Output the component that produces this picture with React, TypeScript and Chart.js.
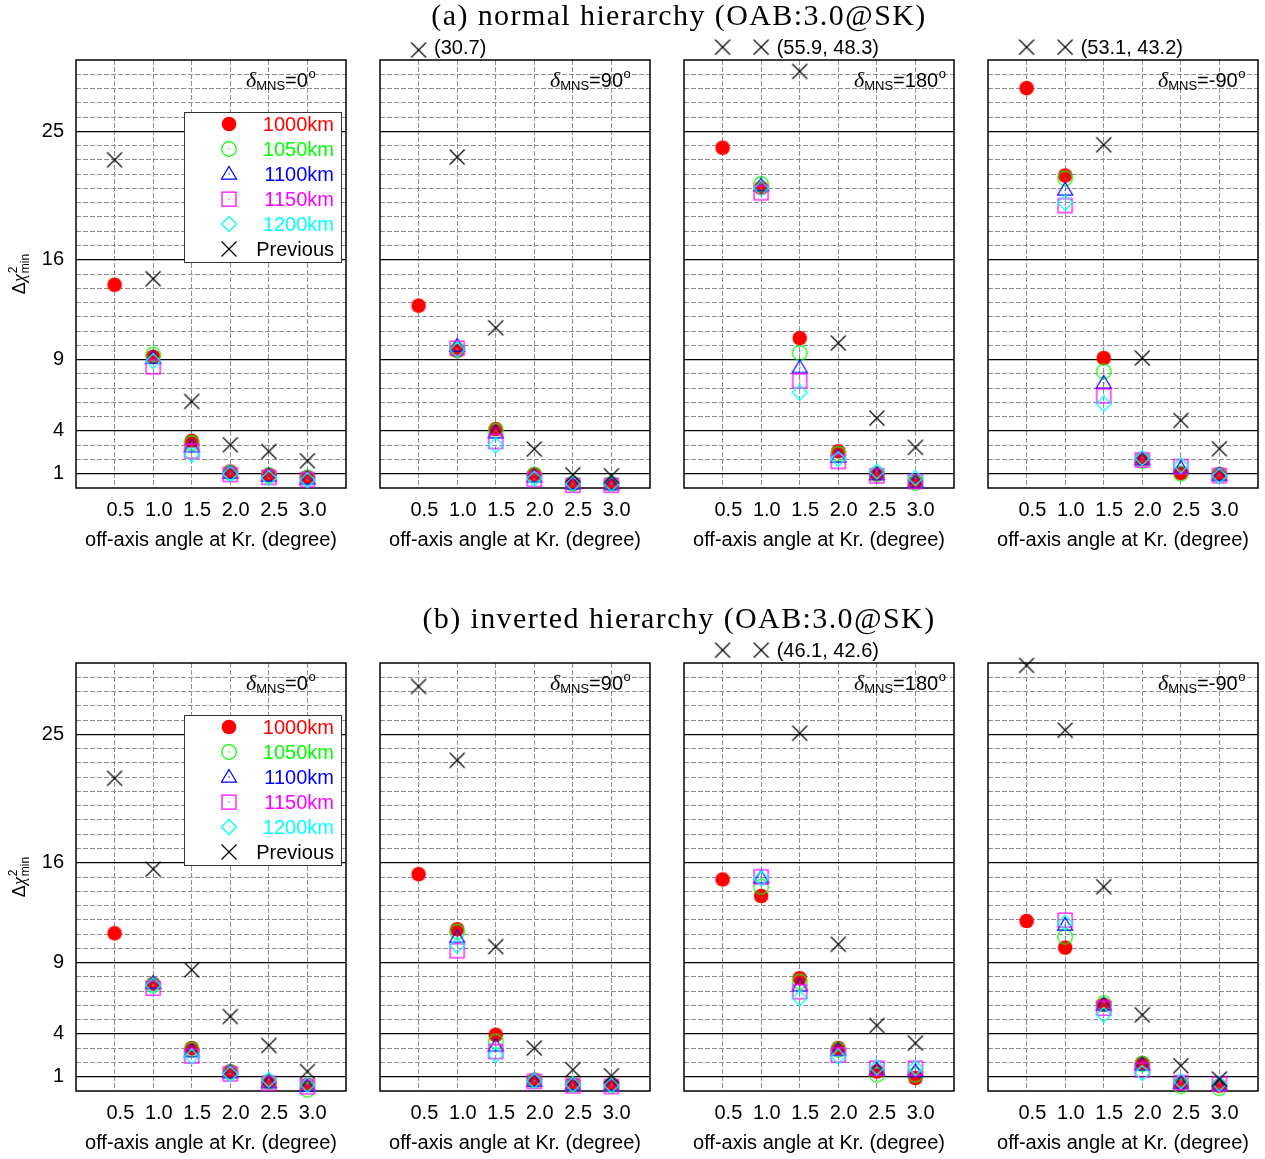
import React, { useEffect, useRef } from "react";
import { Chart, registerables } from "chart.js";
Chart.register(...registerables);

const SANS = "'Liberation Sans', Arial, sans-serif";
const SERIF = "'Liberation Serif', 'Times New Roman', serif";

// ---------- data ----------
const ANGLES = [0.5, 1.0, 1.5, 2.0, 2.5, 3.0];
const X_TICK_LABELS = ["0.5", "1.0", "1.5", "2.0", "2.5", "3.0"];
const Y_MAJOR_TICKS = [1, 4, 9, 16, 25];
const Y_MINOR_TICKS = [1, 2, 3, 4, 5, 6, 7, 8, 9, 10, 11, 12, 13, 14, 15, 16, 17, 18, 19, 20, 21, 22, 23, 24, 25, 26, 27, 28, 29];
const X_GRID_TICKS = [0.5, 1.0, 1.5, 2.0, 2.5, 3.0];
const SERIES_LABELS = ["1000km", "1050km", "1100km", "1150km", "1200km", "Previous"];
const SERIES_COLORS = ["#ff0000", "#00ff00", "#0000ff", "#ff00ff", "#00ffff", "#000000"];
const SERIES_SYMBOLS = ["fcircle", "circle", "triangle", "square", "diamond", "cross"];
const DELTA_LABELS = ["0", "90", "180", "-90"];
const HIERARCHY_TITLES = ["(a) normal hierarchy (OAB:3.0@SK)", "(b) inverted hierarchy (OAB:3.0@SK)"];
const X_TITLE = "off-axis angle at Kr. (degree)";

// normal hierarchy
const NH_D0_1000 = [14.25, 9.2, 3.3, 1.15, 0.93, 0.77];
const NH_D0_1050 = [null, 9.35, 3.15, 1.05, 0.88, 0.72];
const NH_D0_1100 = [null, 9.1, 2.9, 1.05, 0.85, 0.65];
const NH_D0_1150 = [null, 8.5, 2.6, 0.95, 0.75, 0.6];
const NH_D0_1200 = [null, 8.9, 2.35, 1.0, 0.7, 0.55];
const NH_D0_PREV = [23.0, 14.67, 6.07, 3.03, 2.56, 1.91];

const NH_D90_1000 = [12.78, 9.62, 4.13, 0.98, 0.28, 0.28];
const NH_D90_1050 = [null, 9.7, 4.0, 0.9, 0.3, 0.3];
const NH_D90_1100 = [null, 9.95, 3.87, 0.8, 0.3, 0.25];
const NH_D90_1150 = [null, 9.8, 3.27, 0.6, 0.2, 0.2];
const NH_D90_1200 = [null, 9.7, 3.0, 0.65, 0.3, 0.3];
const NH_D90_PREV = [30.7, 23.2, 11.23, 2.73, 0.93, 0.85];

const NH_D180_1000 = [23.85, 21.04, 10.51, 2.57, 1.0, 0.46];
const NH_D180_1050 = [null, 21.3, 9.46, 2.4, 0.95, 0.35];
const NH_D180_1100 = [null, 21.2, 8.45, 2.17, 0.95, 0.4];
const NH_D180_1150 = [null, 20.7, 7.52, 1.87, 0.86, 0.46];
const NH_D180_1200 = [null, 21.0, 6.7, 2.03, 1.16, 0.7];
const NH_D180_PREV = [55.9, 48.3, 29.2, 10.16, 4.9, 2.85];

const NH_DM90_1000 = [28.03, 21.9, 9.11, 2.03, 1.05, 0.98];
const NH_DM90_1050 = [null, 21.7, 8.17, 1.9, 1.0, 0.9];
const NH_DM90_1100 = [null, 20.9, 7.36, 2.0, 1.4, 0.9];
const NH_DM90_1150 = [null, 19.8, 6.47, 1.98, 1.51, 0.88];
const NH_DM90_1200 = [null, 20.0, 5.91, 2.1, 1.58, 0.85];
const NH_DM90_PREV = [53.1, 43.2, 24.06, 9.11, 4.74, 2.75];

// inverted hierarchy
const IH_D0_1000 = [11.06, 7.51, 3.01, 1.37, 0.67, 0.44];
const IH_D0_1050 = [null, 7.4, 2.9, 1.3, 0.6, 0.09];
const IH_D0_1100 = [null, 7.56, 2.77, 1.3, 0.6, 0.35];
const IH_D0_1150 = [null, 7.21, 2.47, 1.21, 0.55, 0.3];
const IH_D0_1200 = [null, 7.4, 2.42, 1.2, 0.79, 0.44];
const IH_D0_PREV = [21.92, 15.55, 8.49, 5.22, 3.19, 1.37];

const IH_D90_1000 = [15.2, 11.34, 3.94, 0.79, 0.51, 0.44];
const IH_D90_1050 = [null, 11.17, 3.47, 0.7, 0.45, 0.4];
const IH_D90_1100 = [null, 10.78, 3.17, 0.7, 0.45, 0.4];
const IH_D90_1150 = [null, 9.84, 2.77, 0.68, 0.37, 0.32];
const IH_D90_1200 = [null, 10.2, 2.54, 0.72, 0.45, 0.4];
const IH_D90_PREV = [28.36, 23.18, 10.12, 3.01, 1.49, 1.07];

const IH_D180_1000 = [14.83, 13.67, 7.91, 3.01, 1.37, 0.91];
const IH_D180_1050 = [null, 14.32, 7.67, 2.9, 1.14, 1.14];
const IH_D180_1100 = [null, 14.95, 7.39, 2.86, 1.49, 1.37];
const IH_D180_1150 = [null, 15.02, 6.97, 2.54, 1.61, 1.61];
const IH_D180_1200 = [null, 14.9, 6.51, 2.42, 1.65, 1.61];
const IH_D180_PREV = [46.1, 42.6, 25.08, 10.29, 4.59, 3.36];

const IH_DM90_1000 = [11.92, 10.05, 6.04, 1.96, 0.56, 0.37];
const IH_DM90_1050 = [null, 10.82, 6.15, 1.9, 0.33, 0.2];
const IH_DM90_1100 = [null, 11.64, 6.04, 1.84, 0.56, 0.4];
const IH_DM90_1150 = [null, 11.99, 5.81, 1.49, 0.6, 0.51];
const IH_DM90_1200 = [null, 11.8, 5.34, 1.26, 0.68, 0.51];
const IH_DM90_PREV = [29.83, 25.29, 14.32, 5.34, 1.77, 0.84];

const PANEL_SERIES: (number | null)[][][] = [
  [NH_D0_1000, NH_D0_1050, NH_D0_1100, NH_D0_1150, NH_D0_1200, NH_D0_PREV],
  [NH_D90_1000, NH_D90_1050, NH_D90_1100, NH_D90_1150, NH_D90_1200, NH_D90_PREV],
  [NH_D180_1000, NH_D180_1050, NH_D180_1100, NH_D180_1150, NH_D180_1200, NH_D180_PREV],
  [NH_DM90_1000, NH_DM90_1050, NH_DM90_1100, NH_DM90_1150, NH_DM90_1200, NH_DM90_PREV],
  [IH_D0_1000, IH_D0_1050, IH_D0_1100, IH_D0_1150, IH_D0_1200, IH_D0_PREV],
  [IH_D90_1000, IH_D90_1050, IH_D90_1100, IH_D90_1150, IH_D90_1200, IH_D90_PREV],
  [IH_D180_1000, IH_D180_1050, IH_D180_1100, IH_D180_1150, IH_D180_1200, IH_D180_PREV],
  [IH_DM90_1000, IH_DM90_1050, IH_DM90_1100, IH_DM90_1150, IH_DM90_1200, IH_DM90_PREV],
];

const Y_MIN = 0;
const Y_MAX = 30;
const Y_OFFSCALE = 30.9; // where off-scale points are shown (above the frame)

// ---------- layout ----------
const PANEL_LEFT = [76, 380, 684, 988];
const PANEL_TOP = [60, 663];
const PLOT_W = 270;
const PLOT_H = 428;
const PAD_L = 76;
const PAD_T = 50;
const PAD_R = 8;
const PAD_B = 66;

function makeSymbol(kind: string, color: string): HTMLCanvasElement {
  const c = document.createElement("canvas");
  c.width = 22;
  c.height = 22;
  const g = c.getContext("2d")!;
  const cx = 11, cy = 11;
  g.strokeStyle = color;
  g.fillStyle = color;
  g.lineWidth = 1.25;
  if (kind === "fcircle") {
    g.beginPath();
    g.arc(cx, cy, 7.3, 0, Math.PI * 2);
    g.fill();
    return c;
  }
  if (kind === "cross") {
    g.lineWidth = 1.2;
    g.beginPath();
    g.moveTo(cx - 7.5, cy - 7.5);
    g.lineTo(cx + 7.5, cy + 7.5);
    g.moveTo(cx + 7.5, cy - 7.5);
    g.lineTo(cx - 7.5, cy + 7.5);
    g.stroke();
    return c;
  }
  g.beginPath();
  if (kind === "circle") {
    g.arc(cx, cy, 7.3, 0, Math.PI * 2);
  } else if (kind === "triangle") {
    g.moveTo(cx, cy - 7.5);
    g.lineTo(cx + 7.5, cy + 5);
    g.lineTo(cx - 7.5, cy + 5);
    g.closePath();
  } else if (kind === "square") {
    g.rect(cx - 7, cy - 7, 14, 14);
  } else if (kind === "diamond") {
    g.moveTo(cx, cy - 7.5);
    g.lineTo(cx + 7.5, cy);
    g.lineTo(cx, cy + 7.5);
    g.lineTo(cx - 7.5, cy);
    g.closePath();
  }
  g.stroke();
  g.fillRect(cx - 0.6, cy - 0.6, 1.2, 1.2);
  return c;
}

function decorPlugin(panel: number, symbols: HTMLCanvasElement[]) {
  const prev = PANEL_SERIES[panel][5];
  const first = panel % 4 === 0;
  return {
    id: "decor" + panel,
    beforeDatasetsDraw(chart: any) {
      const { ctx, chartArea: a } = chart;
      ctx.save();
      ctx.strokeStyle = "#000";
      ctx.lineWidth = 1.5;
      ctx.strokeRect(a.left, a.top, a.right - a.left, a.bottom - a.top);

      // delta label
      let x = a.left + 170;
      const base = a.top + 27;
      ctx.fillStyle = "#000";
      ctx.textAlign = "left";
      ctx.textBaseline = "alphabetic";
      ctx.font = `italic 22px ${SERIF}`;
      ctx.fillText("δ", x, base);
      x += ctx.measureText("δ").width;
      ctx.font = `13px ${SANS}`;
      ctx.fillText("MNS", x, base + 3);
      x += ctx.measureText("MNS").width;
      ctx.font = `20px ${SANS}`;
      const eq = "=" + DELTA_LABELS[panel % 4];
      ctx.fillText(eq, x, base);
      x += ctx.measureText(eq).width;
      ctx.font = `13px ${SANS}`;
      ctx.fillText("o", x + 0.5, base - 9);

      if (first) {
        // legend
        const lx = a.left + 108, ly = a.top + 52;
        ctx.fillStyle = "#fff";
        ctx.fillRect(lx, ly, 157, 150);
        ctx.strokeStyle = "#333";
        ctx.lineWidth = 1;
        ctx.strokeRect(lx + 0.5, ly + 0.5, 157, 150);
        ctx.font = `20px ${SANS}`;
        ctx.textAlign = "right";
        ctx.textBaseline = "middle";
        for (let k = 0; k < SERIES_LABELS.length; k++) {
          const yy = a.top + 64.3 + 25 * k;
          const s = symbols[k];
          ctx.drawImage(s, Math.round(a.left + 153.3 - s.width / 2), Math.round(yy - s.height / 2));
          ctx.fillStyle = SERIES_COLORS[k];
          ctx.fillText(SERIES_LABELS[k], a.left + 258, yy + 1);
        }

        // y axis title
        ctx.save();
        ctx.translate(19, (a.top + a.bottom) / 2);
        ctx.rotate(-Math.PI / 2);
        ctx.fillStyle = "#000";
        ctx.textAlign = "left";
        ctx.textBaseline = "alphabetic";
        ctx.font = `18px ${SANS}`;
        const wD = ctx.measureText("Δ").width;
        ctx.font = `italic 18px ${SERIF}`;
        const wC = ctx.measureText("χ").width;
        ctx.font = `12px ${SANS}`;
        const wS = Math.max(ctx.measureText("2").width, ctx.measureText("min").width);
        let tx = -(wD + wC + wS + 1) / 2;
        const bl = 6;
        ctx.font = `18px ${SANS}`;
        ctx.fillText("Δ", tx, bl);
        tx += wD;
        ctx.font = `italic 18px ${SERIF}`;
        ctx.fillText("χ", tx, bl);
        tx += wC + 1;
        ctx.font = `12px ${SANS}`;
        ctx.fillText("2", tx, bl - 8);
        ctx.fillText("min", tx, bl + 4);
        ctx.restore();
      }
      ctx.restore();
    },
    afterDatasetsDraw(chart: any) {
      const { ctx } = chart;
      const off = ANGLES.map((ang, i) => ({ ang, v: prev[i] })).filter((d) => d.v !== null && (d.v as number) > Y_MAX);
      if (!off.length) return;
      const last = off[off.length - 1];
      const px = chart.scales.x.getPixelForValue(last.ang) + 15.5;
      const py = chart.scales.y.getPixelForValue(Y_OFFSCALE);
      ctx.save();
      ctx.fillStyle = "#000";
      ctx.font = `20px ${SANS}`;
      ctx.textAlign = "left";
      ctx.textBaseline = "middle";
      ctx.fillText("(" + off.map((d) => (d.v as number).toFixed(1)).join(", ") + ")", px, py + 1);
      ctx.restore();
    },
  };
}

function fixH(h: number) {
  return (s: any) => {
    s.height = h;
    s.paddingLeft = 0;
    s.paddingRight = 0;
    s.paddingTop = 0;
    s.paddingBottom = 0;
  };
}
function fixW(w: number) {
  return (s: any) => {
    s.width = w;
    s.paddingLeft = 0;
    s.paddingRight = 0;
    s.paddingTop = 0;
    s.paddingBottom = 0;
  };
}

function Panel({ panel }: { panel: number }) {
  const ref = useRef<HTMLCanvasElement>(null);
  const col = panel % 4;
  const row = Math.floor(panel / 4);
  const W = PAD_L + PLOT_W + PAD_R;
  const H = PAD_T + PLOT_H + PAD_B;
  const left = PANEL_LEFT[col] - PAD_L;
  const top = PANEL_TOP[row] - PAD_T;

  useEffect(() => {
    const symbols = SERIES_SYMBOLS.map((k, i) => makeSymbol(k, SERIES_COLORS[i]));
    const series = PANEL_SERIES[panel];
    const datasets = series.map((vals, k) => ({
      type: "scatter" as const,
      label: SERIES_LABELS[k],
      data: ANGLES.map((ang, i) => ({ x: ang, y: vals[i] === null ? null : Math.min(vals[i] as number, Y_OFFSCALE) }))
        .filter((d) => d.y !== null),
      pointStyle: symbols[k],
      pointRadius: k === 5 ? 24 : 10,
      pointHoverRadius: k === 5 ? 24 : 10,
      pointBorderWidth: 0,
      backgroundColor: SERIES_COLORS[k],
      borderColor: SERIES_COLORS[k],
      showLine: false,
      clip: false as any,
      order: 6 - k,
    }));
    const gridGray = "#8e8e8e";
    const chart = new Chart(ref.current!, {
      type: "scatter",
      data: { datasets: datasets as any },
      options: {
        responsive: false,
        animation: false,
        devicePixelRatio: 1,
        events: [],
        layout: { autoPadding: false, padding: { left: 0, top: PAD_T, right: PAD_R, bottom: 0 } },
        plugins: { legend: { display: false }, tooltip: { enabled: false }, title: { display: false } },
        scales: {
          x: {
            type: "linear",
            position: "bottom",
            min: 0,
            max: 3.5,
            ticks: { display: false },
            grid: { color: gridGray, lineWidth: 1, drawTicks: false },
            border: { display: false, dash: [5, 2] },
            afterBuildTicks: (s: any) => { s.ticks = X_GRID_TICKS.map((v) => ({ value: v })); },
            afterFit: fixH(0),
          },
          xl: {
            type: "linear",
            position: "bottom",
            min: -0.077,
            max: 3.434,
            grid: { display: false, drawTicks: false },
            border: { display: false },
            ticks: {
              autoSkip: false,
              maxRotation: 0,
              padding: 10,
              color: "#000",
              font: { family: SANS, size: 20 },
              callback: (v: any) => X_TICK_LABELS[ANGLES.indexOf(Number(v))] ?? "",
            },
            title: {
              display: true,
              text: X_TITLE,
              color: "#000",
              font: { family: SANS, size: 20 },
              padding: { top: 0, bottom: 2 },
            },
            afterBuildTicks: (s: any) => { s.ticks = ANGLES.map((v) => ({ value: v })); },
            afterFit: fixH(PAD_B),
          },
          y: {
            type: "linear",
            position: "left",
            min: Y_MIN,
            max: Y_MAX,
            ticks: { display: false },
            grid: { color: gridGray, lineWidth: 1, drawTicks: false },
            border: { display: false, dash: [5, 2] },
            afterBuildTicks: (s: any) => { s.ticks = Y_MINOR_TICKS.map((v) => ({ value: v })); },
            afterFit: fixW(0),
          },
          y2: {
            type: "linear",
            position: "left",
            min: Y_MIN,
            max: Y_MAX,
            ticks: {
              display: col === 0,
              padding: 12,
              color: "#000",
              font: { family: SANS, size: 20 },
            },
            grid: { color: "#000", lineWidth: 1.2, drawTicks: false },
            border: { display: false },
            afterBuildTicks: (s: any) => { s.ticks = Y_MAJOR_TICKS.map((v) => ({ value: v })); },
            afterFit: fixW(PAD_L),
          },
        } as any,
      },
      plugins: [decorPlugin(panel, symbols)],
    });
    return () => chart.destroy();
  }, [panel]);

  return (
    <canvas
      ref={ref}
      width={W}
      height={H}
      style={{ position: "absolute", left, top, width: W, height: H }}
    />
  );
}

export default function App() {
  return (
    <div style={{ position: "absolute", left: 0, top: 0, width: 1265, height: 1159, overflow: "hidden", background: "#fff" }}>
      {[0, 1, 2, 3, 4, 5, 6, 7].map((p) => (
        <Panel key={p} panel={p} />
      ))}
      {HIERARCHY_TITLES.map((t, r) => (
        <div
          key={t}
          style={{
            position: "absolute",
            left: 279,
            width: 800,
            top: r === 0 ? 0 : 603,
            lineHeight: "30px",
            textAlign: "center",
            fontFamily: SERIF,
            fontSize: 30,
            letterSpacing: "1.4px",
            color: "#000",
            whiteSpace: "nowrap",
          }}
        >
          {t}
        </div>
      ))}
    </div>
  );
}
